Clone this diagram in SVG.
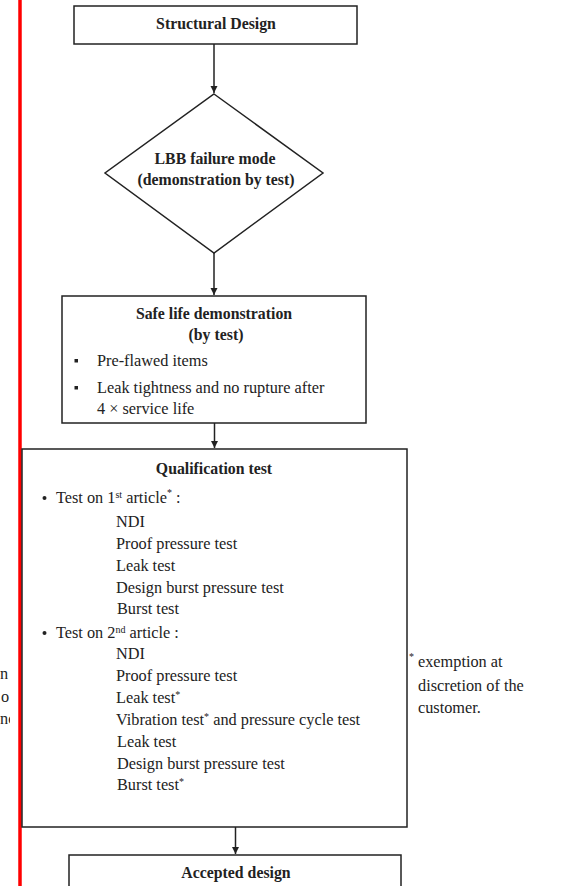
<svg xmlns="http://www.w3.org/2000/svg" width="581" height="886" viewBox="0 0 581 886">
<defs>
<marker id="ah" markerWidth="8" markerHeight="8" refX="7" refY="4" orient="auto" markerUnits="userSpaceOnUse">
<path d="M0,0.5 L7,4 L0,7.5 Z" fill="#222"/>
</marker>
<clipPath id="lc"><rect x="0" y="0" width="10" height="886"/></clipPath>
</defs>
<style>
.box{fill:#fff;stroke:#222;stroke-width:1.5}
.t{font-family:"Liberation Serif","Times New Roman",serif;font-size:16.3px;fill:#222}
.b{font-family:"Liberation Serif","Times New Roman",serif;font-size:15.8px;font-weight:bold;fill:#222}
.c{text-anchor:middle}
.sup{font-size:10px}
.con{stroke:#222;stroke-width:1.5;fill:none;marker-end:url(#ah)}
</style>
<rect x="0" y="0" width="581" height="886" fill="#fff"/>
<line x1="20" y1="0" x2="20" y2="886" stroke="#f00" stroke-width="3.5"/>
<g clip-path="url(#lc)">
<text class="t" x="0" y="679">n a</text>
<text class="t" x="1" y="702">o</text>
<text class="t" x="0" y="724">nc</text>
</g>
<g id="connectors">
<line class="con" x1="214" y1="44" x2="214" y2="93"/>
<line class="con" x1="214" y1="253" x2="214" y2="295"/>
<line class="con" x1="214.5" y1="423" x2="214.5" y2="448"/>
<line class="con" x1="235.5" y1="827" x2="235.5" y2="854"/>
</g>
<g id="structural-design">
<rect class="box" x="74" y="6" width="283" height="38"/>
<text class="b c" x="216" y="29">Structural Design</text>
</g>
<g id="lbb">
<polygon class="box" points="214,94 323,173 214,253 105,173"/>
<text class="b c" x="215" y="164">LBB failure mode</text>
<text class="b c" x="216" y="185">(demonstration by test)</text>
</g>
<g id="safe-life">
<rect class="box" x="62" y="296" width="304" height="127"/>
<text class="b c" x="214" y="319">Safe life demonstration</text>
<text class="b c" x="216" y="340">(by test)</text>
<rect x="74.5" y="359" width="3.5" height="3.5" fill="#222"/>
<text class="t" x="97" y="366">Pre-flawed items</text>
<rect x="74.5" y="386" width="3.5" height="3.5" fill="#222"/>
<text class="t" x="97" y="393">Leak tightness and no rupture after</text>
<text class="t" x="97" y="414">4 × service life</text>
</g>
<g id="qualification">
<rect class="box" x="22" y="449" width="385" height="378"/>
<text class="b c" x="214" y="474">Qualification test</text>
<circle cx="44.5" cy="498" r="2" fill="#222"/>
<text class="t" x="56" y="503">Test on 1<tspan class="sup" dy="-5">st</tspan><tspan dy="5"> article</tspan><tspan class="sup" dy="-7">*</tspan><tspan dy="7"> :</tspan></text>
<text class="t" x="116" y="527">NDI</text>
<text class="t" x="116" y="549">Proof pressure test</text>
<text class="t" x="116" y="571">Leak test</text>
<text class="t" x="116" y="593">Design burst pressure test</text>
<text class="t" x="117" y="614">Burst test</text>
<circle cx="44.5" cy="633" r="2" fill="#222"/>
<text class="t" x="56" y="638">Test on 2<tspan class="sup" dy="-5">nd</tspan><tspan dy="5"> article :</tspan></text>
<text class="t" x="116" y="659">NDI</text>
<text class="t" x="116" y="681">Proof pressure test</text>
<text class="t" x="116" y="703">Leak test<tspan class="sup" dy="-5">*</tspan></text>
<text class="t" x="116" y="725">Vibration test<tspan class="sup" dy="-5">*</tspan><tspan dy="5">  and pressure cycle test</tspan></text>
<text class="t" x="117" y="747">Leak  test</text>
<text class="t" x="117" y="769">Design burst pressure test</text>
<text class="t" x="117" y="790">Burst test<tspan class="sup" dy="-5">*</tspan></text>
</g>
<g id="note">
<text class="t sup" x="409" y="660">*</text>
<text class="t" x="418" y="667">exemption at</text>
<text class="t" x="418" y="691">discretion of the</text>
<text class="t" x="418" y="713">customer.</text>
</g>
<g id="accepted-design">
<rect class="box" x="69" y="855" width="332" height="40"/>
<text class="b c" x="236" y="878">Accepted design</text>
</g>
</svg>
